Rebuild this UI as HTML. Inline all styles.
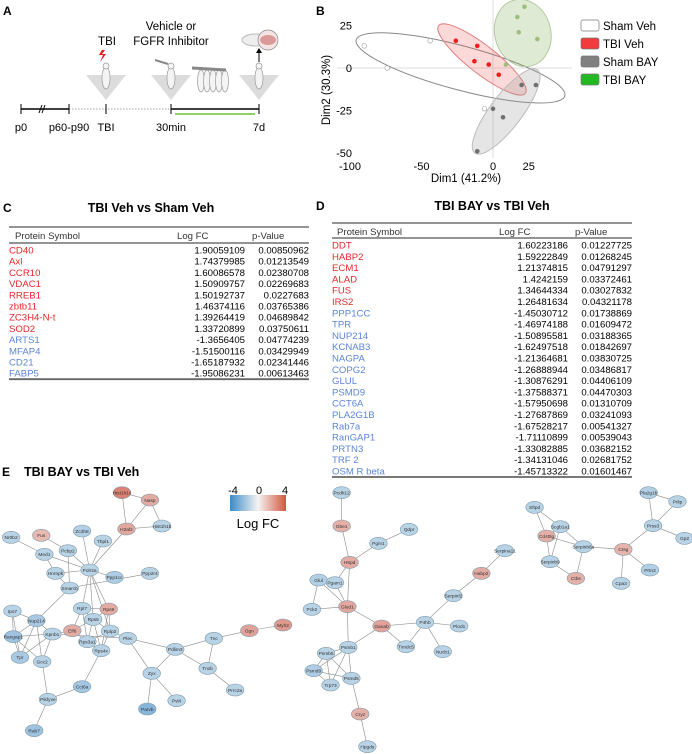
<!DOCTYPE html>
<html><head><meta charset="utf-8"><style>
body{margin:0;background:#fff;}
svg{display:block;font-family:"Liberation Sans",Arial,sans-serif;}
.lbl{font-size:12px;font-weight:bold}
.tt{font-size:12.5px;font-weight:bold}
.tb{font-size:9.6px}
.red{fill:#e8262a}.blu{fill:#5b85d8}
</style></head><body>
<svg id="fig" width="692" height="754" viewBox="0 0 692 754">
<g>
<text class="lbl" x="3" y="15">A</text>
<text x="107" y="45" font-size="11.5" text-anchor="middle">TBI</text>
<text x="171" y="30" font-size="11.5" text-anchor="middle">Vehicle or</text>
<text x="171" y="45" font-size="11.5" text-anchor="middle">FGFR Inhibitor</text>
<polygon points="102,50 99,55 103,55 100,62 106,54 102,54 105,50" fill="#f01818"/>
<polygon points="86,75 126,75 106,100" fill="#dcdcdc"/>
<polygon points="151,75 191,75 171,100" fill="#dcdcdc"/>
<polygon points="239,75 279,75 259,100" fill="#dcdcdc"/>
<g fill="#f4f4f4" stroke="#999" stroke-width="0.7">
<ellipse cx="106" cy="78" rx="4" ry="11"/><circle cx="106" cy="66" r="3"/>
<ellipse cx="171" cy="78" rx="4" ry="11"/><circle cx="171" cy="66" r="3"/>
<ellipse cx="259" cy="78" rx="4" ry="11"/><circle cx="259" cy="66" r="3"/>
<ellipse cx="201" cy="81" rx="3.5" ry="11"/><ellipse cx="207" cy="81" rx="3.5" ry="11"/><ellipse cx="213" cy="81" rx="3.5" ry="11"/><ellipse cx="219" cy="81" rx="3.5" ry="11"/><ellipse cx="225" cy="81" rx="3.5" ry="11"/>
</g>
<line x1="155" y1="60" x2="168" y2="64" stroke="#888" stroke-width="2"/>
<line x1="192" y1="68" x2="226" y2="70" stroke="#888" stroke-width="3"/>
<line x1="259" y1="62" x2="259" y2="52" stroke="#000"/><polygon points="256,53 262,53 259,48" fill="#000"/>
<ellipse cx="256" cy="40" rx="14" ry="6" fill="#eee" stroke="#bbb"/>
<circle cx="268" cy="40" r="10" fill="#f4e4e4" stroke="#888" stroke-width="0.7"/><ellipse cx="268" cy="40" rx="8" ry="5" fill="#d99a9a"/>
<line x1="21" y1="109" x2="69" y2="109" stroke="#000" stroke-width="1.5"/>
<line x1="69" y1="109" x2="171" y2="109" stroke="#888" stroke-width="0.7" stroke-dasharray="1.5,1.5"/>
<line x1="171" y1="109" x2="259" y2="109" stroke="#000" stroke-width="1.5"/>
<g stroke="#000"><line x1="21" y1="104" x2="21" y2="114"/><line x1="69" y1="104" x2="69" y2="114"/><line x1="106" y1="104" x2="106" y2="114"/><line x1="171" y1="104" x2="171" y2="114"/><line x1="259" y1="104" x2="259" y2="114"/>
<line x1="39" y1="113" x2="42" y2="105"/><line x1="42" y1="113" x2="45" y2="105"/></g>
<line x1="175" y1="114" x2="255" y2="114" stroke="#8fd16a" stroke-width="2"/>
<g font-size="11" text-anchor="middle"><text x="21" y="131">p0</text><text x="69" y="131">p60-p90</text><text x="106" y="131">TBI</text><text x="171" y="131">30min</text><text x="259" y="131">7d</text></g>
</g>
<g id="pca">
<text class="lbl" x="316" y="15">B</text>
</g>
<g id="tables">
<text class="lbl" x="3" y="212">C</text>
<text class="tt" x="151" y="212" text-anchor="middle">TBI Veh vs Sham Veh</text>
<text class="lbl" x="316" y="210">D</text>
<text class="tt" x="492" y="210" text-anchor="middle">TBI BAY vs TBI Veh</text>
</g>
<g id="net">
<text class="lbl" x="2" y="476">E</text>
<text class="tt" x="24" y="476">TBI BAY vs TBI Veh</text>
<defs><linearGradient id="lg" x1="0" x2="1"><stop offset="0" stop-color="#3d8ac7"/><stop offset="0.5" stop-color="#f4f4f4"/><stop offset="1" stop-color="#d2563f"/></linearGradient></defs>
<rect x="230" y="495" width="56" height="16" fill="url(#lg)"/>
<g font-size="11" text-anchor="middle"><text x="233" y="494">-4</text><text x="259" y="494">0</text><text x="285" y="494">4</text></g>
<text x="258" y="528" font-size="13" text-anchor="middle">Log FC</text>
</g>
</svg>
<script>
var NS="http://www.w3.org/2000/svg";
function mk(p,t,a){var e=document.createElementNS(NS,t);for(var k in a)e.setAttribute(k,a[k]);p.appendChild(e);return e;}
var groups=["Sham Veh","TBI Veh","Sham BAY","TBI BAY"];
var shamVehX=[-90,-44,-74,-6], shamVehY=[13,16,0,-24];
var tbiVehX=[-26,-11,-13,-3,4], tbiVehY=[16,13,4,2,-4];
var shamBayX=[20,30,0,7,-11], shamBayY=[-10,-10,-24,-29,-49];
var tbiBayX=[22,17,18,31,9], tbiBayY=[36,30,21,17,2];
var xTicks=[-100,-50,0,25], yTicks=[25,0,-25,-50];
function px(v){return 493+1.43*v;} function py(v){return 68-1.7*v;}
var pca=document.getElementById('pca');
mk(pca,'line',{x1:493,y1:0,x2:493,y2:158,stroke:'#ddd','stroke-width':1});
mk(pca,'line',{x1:337,y1:68,x2:572,y2:68,stroke:'#ddd','stroke-width':1});
var gx=[shamVehX,tbiVehX,shamBayX,tbiBayX], gy=[shamVehY,tbiVehY,shamBayY,tbiBayY];
var efill=['none','rgba(240,80,80,0.22)','rgba(150,150,150,0.25)','rgba(140,180,100,0.28)'];
var estroke=['#888','#e08080','#bbb','#b6c9a0'];
var pfill=['#fff','#f01c1c','#707070','#9cbf80'];var pst=['#999','none','none','none'];
var eOffX=[44,3,0,2], eOffY=[2,2,2,1], eRx=[108,55,52,34], eRy=[22,14,16,28], eAng=[15,38,-53,75];
for(var g=0;g<4;g++){
 var xs=gx[g].map(px), ys=gy[g].map(py), n=xs.length;
 var mx=xs.reduce((a,b)=>a+b)/n+eOffX[g],my=ys.reduce((a,b)=>a+b)/n+eOffY[g];
 var el=mk(pca,'ellipse',{cx:mx,cy:my,rx:eRx[g],ry:eRy[g],transform:'rotate('+eAng[g]+' '+mx+' '+my+')',fill:efill[g],stroke:estroke[g],'stroke-width':1});
 
 
}
for(var g=0;g<4;g++){for(var i=0;i<gx[g].length;i++){
 var c=mk(pca,'circle',{cx:px(gx[g][i]),cy:py(gy[g][i]),r:2.3,fill:pfill[g],stroke:pst[g],'stroke-width':0.6});
 
 
}}
xTicks.forEach(function(t){var e=mk(pca,'text',{x:px(t),y:170,'font-size':11,'text-anchor':'middle'});e.textContent=t;
 
 });
yTicks.forEach(function(t){var e=mk(pca,'text',{x:352,y:py(t)+4,'font-size':11,'text-anchor':'end'});e.textContent=t;
 
 });
var xl=mk(pca,'text',{x:466,y:182,'font-size':11.5,'text-anchor':'middle'});xl.textContent='Dim1 (41.2%)';


var yl=mk(pca,'text',{x:0,y:0,'font-size':11.5,'text-anchor':'middle',transform:'translate(330,90) rotate(-90)'});yl.textContent='Dim2 (30.3%)';


var legFill=['#fff','#f03c3c','#808080','#22b822'];
groups.forEach(function(nm,i){var y=26+i*18;
 var r=mk(pca,'rect',{x:581,y:y-6,width:18,height:11,rx:2,fill:legFill[i],stroke:'#777','stroke-width':0.7});
 
 
 var t=mk(pca,'text',{x:603,y:y+4,'font-size':11.5});t.textContent=nm;
 
 });
var cNames=["CD40","Axl","CCR10","VDAC1","RREB1","zbtb11","ZC3H4-N-t","SOD2","ARTS1","MFAP4","CD21","FABP5"];
var cFC=["1.90059109","1.74379985","1.60086578","1.50909757","1.50192737","1.46374116","1.39264419","1.33720899","-1.3656405","-1.51500116","-1.65187932","-1.95086231"];
var cP=["0.00850962","0.01213549","0.02380708","0.02269683","0.0227683","0.03765386","0.04689842","0.03750611","0.04774239","0.03429949","0.02341446","0.00613463"];
var dNames=["DDT","HABP2","ECM1","ALAD","FUS","IRS2","PPP1CC","TPR","NUP214","KCNAB3","NAGPA","COPG2","GLUL","PSMD9","CCT6A","PLA2G1B","Rab7a","RanGAP1","PRTN3","TRF 2","OSM R beta"];
var dFC=["1.60223186","1.59222849","1.21374815","1.4242159","1.34644334","1.26481634","-1.45030712","-1.46974188","-1.50895581","-1.62497518","-1.21364681","-1.26888944","-1.30876291","-1.37588371","-1.57950698","-1.27687869","-1.67528217","-1.71110899","-1.33082885","-1.34131046","-1.45713322"];
var dP=["0.01227725","0.01268245","0.04791297","0.03372461","0.03027832","0.04321178","0.01738869","0.01609472","0.03188365","0.01842697","0.03830725","0.03486817","0.04406109","0.04470303","0.01310709","0.03241093","0.00541327","0.00539043","0.03682152","0.02681752","0.01601467"];
var tb=document.getElementById('tables');
function table(names,fc,p,x0,x1,fcR,top,hy,hl,r0,pitch,hx,hfc,hp,nm){
 var g=mk(tb,'g',{});
 mk(g,'line',{x1:x0,y1:top,x2:x1,y2:top,stroke:'#555','stroke-width':1.2});
 var h=[['Protein Symbol',hx],['Log FC',hfc],['p-Value',hp]];
 h.forEach(function(a){var t=mk(g,'text',{x:a[1],y:hy,'font-size':9.6,fill:'#333'});t.textContent=a[0];});
 mk(g,'line',{x1:x0,y1:hl,x2:x1,y2:hl,stroke:'#555','stroke-width':1.2});
 for(var i=0;i<names.length;i++){var y=r0+i*pitch+3.5,pos=parseFloat(fc[i])>0;
  var t=mk(g,'text',{x:x0,y:y,'class':'tb '+(pos?'red':'blu')});t.textContent=names[i];
  
  
  var t2=mk(g,'text',{x:fcR,y:y,'class':'tb','text-anchor':'end'});t2.textContent=fc[i];
  var t3=mk(g,'text',{x:x1,y:y,'class':'tb','text-anchor':'end'});t3.textContent=p[i];}
 var yb=r0+(names.length-1)*pitch+6;
 mk(g,'line',{x1:x0,y1:yb,x2:x1,y2:yb,stroke:'#666','stroke-width':1.8});
}
table(cNames,cFC,cP,9,309,245,227,239,243,250,11.2,15,177,252,'table-c');
table(dNames,dFC,dP,332,632,568,223,235,238,245,11.3,337,499,575,'table-d');
var nodeNames=["Hist1h1c","Nasp","Hist1h1b","H2afz","Fus","Zc3h8","Tbpl1","Nr0b2","Pcbp2","Med1","Polr2a","Ppp2r4","Hnrnpk","Ppp1cc","Smarcb","Rpl7","Rps9","Ipo7","Nup214","Rps5","Eif6","Rplp2","Kpnb1","Rangap1","Rps3a1","Plec","Rps4x","Pdlim3","Tnc","Ogn","Myh2","Tpr","Gcc2","Tnxb","Zyx","Prrc2a","Cct6a","Pikfyve","Pvl4","Parvb","Rab7",
"Pcdh12","Gbe1","Qdpr","Pgm1","H6pd","Glul","Pgam1","Pck2","Glud1","Ganab","P4hb","Plod1","Txndc5","Nucb1","Serpina11","Habp2","Serpinf2","Psmb1","Psmb5","Psmd9","Psmd5","Trp73","Cryz","Hpgds",
"Pla2g1b","Prlip","Sftpd","Scgb1a1","Prss3","Cd40lg","Gp2","Serpinb6a","Ctsg","Serpinb9","Prtn3","Ctbs","Cpa3"];
var nodeLogFC=[3.2,1.6,-1.2,1.7,1.3,-1.3,-1.2,-1.2,-1.2,-1.2,-1.2,-1.2,-1.2,-1.4,-1.2,-1.2,1.6,-1.2,-1.5,-1.2,1.6,-1.2,-1.2,-1.7,-1.2,-1.2,-1.2,-1.2,-1.2,1.8,2.0,-1.5,-1.2,-1.2,-1.2,-1.2,-1.6,-1.2,-1.2,-2.2,-1.7,
-1.2,1.5,-1.2,-1.2,1.6,-1.3,-1.2,-1.2,1.7,1.8,-1.2,-1.2,-1.2,-1.2,-1.2,1.6,-1.2,-1.2,-1.2,-1.4,-1.2,-1.2,1.5,-1.2,
-1.3,-1.2,-1.2,-1.2,-1.2,1.5,-1.2,-1.2,1.4,-1.2,-1.3,1.5,-1.2];
var layX=[275,338,365,285,93,185,232,25,153,100,202,338,125,258,157,185,245,28,82,210,163,248,118,30,197,288,228,395,482,562,638,45,95,468,342,530,185,108,398,332,77,
770,770,922,853,788,718,755,703,783,860,958,1035,915,998,1138,1085,1022,785,735,707,792,745,812,828,
1462,1527,1205,1263,1472,1232,1543,1315,1405,1240,1465,1298,1400];
var layY=[458,480,558,567,586,573,603,592,632,643,690,700,700,712,744,805,807,813,842,838,872,873,882,890,905,895,932,928,895,872,855,952,965,985,1000,1050,1040,1078,1082,1107,1172,
458,558,568,610,667,720,728,808,800,858,847,858,920,935,632,700,767,922,940,992,1015,1035,1122,1220,
458,485,502,560,557,588,595,620,628,665,690,715,730];
var edges=[["Hist1h1c","Nasp"],["Hist1h1c","H2afz"],["Nasp","H2afz"],["Nasp","Hist1h1b"],["H2afz","Hist1h1b"],["H2afz","Polr2a"],["Zc3h8","Polr2a"],["Tbpl1","Polr2a"],["Fus","Pcbp2"],["Nr0b2","Med1"],["Med1","Polr2a"],["Med1","Hnrnpk"],["Pcbp2","Polr2a"],["Pcbp2","Smarcb"],["Hnrnpk","Polr2a"],["Polr2a","Ppp1cc"],["Polr2a","Rps9"],["Polr2a","Rpl7"],["Polr2a","Rps5"],["Polr2a","Rplp2"],["Smarcb","Nup214"],["Smarcb","Ppp2r4"],["Hnrnpk","Smarcb"],
["Rpl7","Rps9"],["Rpl7","Rps5"],["Rpl7","Eif6"],["Rpl7","Rps3a1"],["Rps9","Rps5"],["Rps9","Rplp2"],["Rps9","Rps4x"],["Rps5","Rplp2"],["Rps5","Eif6"],["Rps5","Rps3a1"],["Rps5","Rps4x"],["Rplp2","Rps3a1"],["Rplp2","Rps4x"],["Eif6","Rps3a1"],["Rps3a1","Rps4x"],["Eif6","Kpnb1"],["Kpnb1","Plec"],["Rplp2","Plec"],["Rps4x","Cct6a"],["Cct6a","Pikfyve"],["Pikfyve","Rab7"],["Pikfyve","Gcc2"],
["Ipo7","Nup214"],["Ipo7","Rangap1"],["Nup214","Kpnb1"],["Nup214","Rangap1"],["Nup214","Tpr"],["Nup214","Gcc2"],["Rangap1","Kpnb1"],["Rangap1","Tpr"],["Rangap1","Gcc2"],["Kpnb1","Tpr"],["Kpnb1","Gcc2"],["Ipo7","Tpr"],
["Plec","Pdlim3"],["Plec","Zyx"],["Pdlim3","Zyx"],["Pdlim3","Tnc"],["Pdlim3","Tnxb"],["Tnc","Ogn"],["Ogn","Myh2"],["Tnc","Tnxb"],["Tnxb","Prrc2a"],["Zyx","Parvb"],["Zyx","Pvl4"],
["Pcdh12","Gbe1"],["Gbe1","H6pd"],["H6pd","Pgm1"],["Pgm1","Qdpr"],["H6pd","Pgam1"],["H6pd","Glud1"],["Glul","Pck2"],["Glul","Glud1"],["Pgam1","Glud1"],["Pck2","Glud1"],["Glud1","Ganab"],["Glud1","Psmb1"],["Ganab","Psmb1"],["Ganab","P4hb"],["Ganab","Txndc5"],["P4hb","Txndc5"],["P4hb","Plod1"],["P4hb","Nucb1"],["P4hb","Serpinf2"],["Serpinf2","Habp2"],["Habp2","Serpina11"],
["Psmb1","Psmb5"],["Psmb1","Psmd9"],["Psmb1","Psmd5"],["Psmb1","Trp73"],["Psmb5","Psmd9"],["Psmb5","Psmd5"],["Psmb5","Trp73"],["Psmd9","Psmd5"],["Psmd9","Trp73"],["Psmd5","Cryz"],["Cryz","Hpgds"],
["Pla2g1b","Prlip"],["Pla2g1b","Prss3"],["Prlip","Prss3"],["Prss3","Gp2"],["Prss3","Ctsg"],["Sftpd","Scgb1a1"],["Sftpd","Cd40lg"],["Scgb1a1","Cd40lg"],["Scgb1a1","Serpinb6a"],["Scgb1a1","Serpinb9"],["Cd40lg","Serpinb6a"],["Cd40lg","Serpinb9"],["Serpinb6a","Ctsg"],["Serpinb6a","Ctbs"],["Serpinb9","Ctbs"],["Ctsg","Prtn3"],["Ctsg","Cpa3"]];
var net=document.getElementById('net');
function nx(i){return layX[i]/2.254;} function ny(i){return 340+layY[i]/3;}
function col(v){
 function mix(a,b,t){return Math.round(a+(b-a)*t);}
 var t=Math.min(Math.abs(v)/4,1)*1.6;t=Math.min(t,1);
 if(v>=0)return 'rgb('+mix(244,214,t*0.85)+','+mix(244,110,t*0.85)+','+mix(244,95,t*0.85)+')';
 return 'rgb('+mix(244,96,t*0.85)+','+mix(244,160,t*0.85)+','+mix(244,210,t*0.85)+')';
}
var eg=mk(net,'g',{stroke:'#8a8a8a','stroke-width':0.6});


edges.forEach(function(e){var a=nodeNames.indexOf(e[0]),b=nodeNames.indexOf(e[1]);
 var l=mk(eg,'line',{x1:nx(a),y1:ny(a),x2:nx(b),y2:ny(b)});
 
 });
nodeNames.forEach(function(n,i){
 var g=mk(net,'g',{});
 
 
 mk(g,'ellipse',{cx:nx(i),cy:ny(i),rx:8.8,ry:6,fill:col(nodeLogFC[i]),stroke:'#7f9aa8','stroke-width':0.6});
 var t=mk(g,'text',{x:nx(i),y:ny(i)+1.8,'font-size':4.8,'text-anchor':'middle',fill:'#333'});t.textContent=n;
});
</script>
</body></html>
